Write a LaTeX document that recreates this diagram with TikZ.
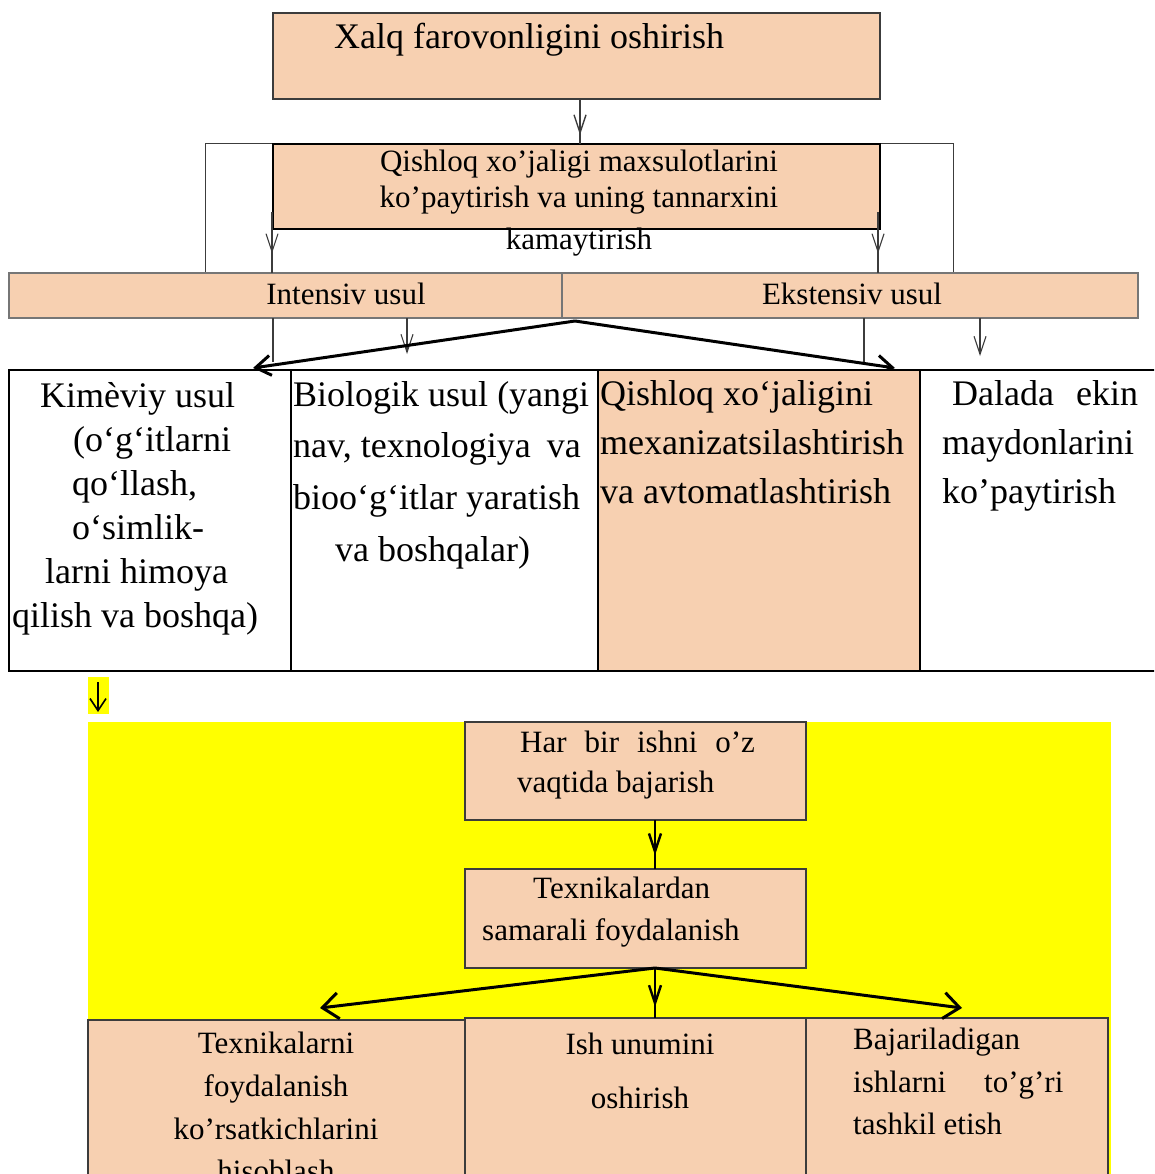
\documentclass[tikz,border=0pt]{standalone}
\usepackage{fontspec}
\setmainfont{Liberation Serif}
\usetikzlibrary{arrows.meta,decorations.markings}
\definecolor{peach}{RGB}{247,208,177}
\definecolor{hl}{RGB}{255,255,0}
\definecolor{edge}{RGB}{60,60,60}

\begin{document}
\begin{tikzpicture}[x=1pt,y=-1pt,
  cell/.style={inner sep=0pt, outer sep=0pt, anchor=north west},
  thinbox/.style={cell, draw=edge, line width=1.1pt},
  thickbox/.style={cell, draw=black, line width=2.5pt},
  big/.style={font=\fontsize{36}{44}\selectfont, inner sep=0pt},
  txt/.style={font=\fontsize{31}{38}\selectfont, inner sep=0pt},
  barb/.tip={Straight Barb[length=15pt,width=20pt]},
  slimbarb/.tip={Straight Barb[length=18pt,width=12pt]},
  thinline/.style={draw=edge, line width=1.1pt},
  heavy/.style={draw=black, line width=3pt},
  tipat/.style={postaction={decorate}, decoration={markings,
      mark=at position #1 with {\arrow{slimbarb}}}},
]
\clip (0,0) rectangle (1154,1174);
\fill[white] (0,0) rectangle (1154,1174);

% --- goal ---
\node[thinbox, fill=peach, minimum width=607, minimum height=86] (goal) at (273,13) {};
\node[big, anchor=base west] (goalT) at (334,49) {Xalq farovonligini oshirish};

% --- frame around the second level ---
\node[cell, draw=edge, line width=1pt, minimum width=748, minimum height=129] (frame) at (205,144) {};
\node[thickbox, line width=2.2pt, fill=peach, minimum width=607, minimum height=85] (task) at (273,144) {};
\node[txt, anchor=base] (taskA) at (579,172) {Qishloq xo’jaligi maxsulotlarini};
\node[txt, anchor=base] (taskB) at (579,208) {ko’paytirish va uning tannarxini};
\node[txt, anchor=base] (taskC) at (579,249) {kamaytirish};

\coordinate (goalOut) at (580,99);
\coordinate (taskIn) at (580,144);
\draw[thinline, line width=1.4pt, tipat=0.8] (goalOut) -- (taskIn);

% --- methods band ---
\node[thinbox, draw=edge!70, fill=peach, minimum width=553, minimum height=45] (intens) at (9,273) {};
\node[thinbox, draw=edge!70, fill=peach, minimum width=576, minimum height=45] (extens) at (562,273) {};
\node[txt, anchor=base] (intensT) at (346,304) {Intensiv usul};
\node[txt, anchor=base] (extensT) at (852,304) {Ekstensiv usul};

\coordinate (lDrop) at (272,212);
\coordinate (lLand) at (272,273);
\coordinate (rDrop) at (878,212);
\coordinate (rLand) at (878,273);
\draw[thinline, tipat=0.68] (lDrop) -- (lLand);
\draw[thinline, tipat=0.68] (rDrop) -- (rLand);

% --- connectors below the band ---
\coordinate (iA) at (273,318);
\coordinate (iAend) at (273,362);
\coordinate (iB) at (407,318);
\coordinate (iBend) at (407,354);
\coordinate (eA) at (864,318);
\coordinate (eAend) at (864,362);
\coordinate (eB) at (980,318);
\coordinate (eBend) at (980,356);
\draw[thinline] (iA) -- (iAend);
\draw[thinline] (eA) -- (eAend);
\draw[thinline, -{slimbarb}] (iB) -- (iBend);
\draw[thinline, -{slimbarb}] (eB) -- (eBend);

\coordinate (split) at (575,321);
\coordinate (toKim) at (253,368);
\coordinate (toMex) at (895,368);
\draw[heavy, -{barb}] (split) -- (toKim);
\draw[heavy, -{barb}] (split) -- (toMex);

% --- four ways ---
\node[thickbox, minimum width=282, minimum height=301] (kim) at (9,370) {};
\node[thickbox, minimum width=307, minimum height=301] (bio) at (291,370) {};
\node[thickbox, fill=peach, minimum width=322, minimum height=301] (mex) at (598,370) {};
\node[thickbox, minimum width=260, minimum height=301] (dal) at (920,370) {};

\node[big, anchor=base west] (kim1) at (40,407) {Kimèviy usul};
\node[big, anchor=base west] (kim2) at (73,451) {(o‘g‘itlarni};
\node[big, anchor=base west] (kim3) at (72,495) {qo‘llash,};
\node[big, anchor=base west] (kim4) at (72,539) {o‘simlik-};
\node[big, anchor=base west] (kim5) at (45,583) {larni himoya};
\node[big, anchor=base west] (kim6) at (12,627) {qilish va boshqa)};

\node[big, anchor=base west] (bio1) at (293,406) {Biologik usul (yangi};
\node[big, anchor=base west] (bio2) at (293,457) {nav, texnologiya\hspace{16pt}va};
\node[big, anchor=base west] (bio3) at (293,509) {bioo‘g‘itlar yaratish};
\node[big, anchor=base west] (bio4) at (335,561) {va boshqalar)};

\node[big, anchor=base west] (mex1) at (600,405) {Qishloq xo‘jaligini};
\node[big, anchor=base west] (mex2) at (600,454) {mexanizatsilashtirish};
\node[big, anchor=base west] (mex3) at (600,503) {va avtomatlashtirish};

\node[big, anchor=base west] (dal1) at (952,405) {Dalada\hspace{22pt}ekin};
\node[big, anchor=base west] (dal2) at (942,454) {maydonlarini};
\node[big, anchor=base west] (dal3) at (942,503) {ko’paytirish};

% --- highlighted continuation ---
\fill[hl] (88,677) rectangle (109,714);
\coordinate (contTop) at (98,682);
\coordinate (contEnd) at (98,712);
\draw[black, line width=1.6pt, -{Straight Barb[length=12pt,width=16pt]}] (contTop) -- (contEnd);

\fill[hl] (88,722) rectangle (1111,1180);

\node[thinbox, fill=peach, minimum width=341, minimum height=98] (time) at (465,722) {};
\node[txt, anchor=base west] (time1) at (520,752) {Har\hspace{18pt}bir\hspace{18pt}ishni\hspace{18pt}o’z};
\node[txt, anchor=base west] (time2) at (517,792) {vaqtida bajarish};

\node[thinbox, fill=peach, minimum width=341, minimum height=99] (use) at (465,869) {};
\node[txt, anchor=base west] (use1) at (533,898) {Texnikalardan};
\node[txt, anchor=base west] (use2) at (482,940) {samarali foydalanish};

\coordinate (timeOut) at (655,820);
\coordinate (useIn) at (655,869);
\draw[black, line width=2.4pt, tipat=0.72] (timeOut) -- (useIn);

\node[thinbox, fill=peach, minimum width=377, minimum height=200] (calc) at (88,1020) {};
\node[thinbox, fill=peach, minimum width=341, minimum height=200] (prod) at (465,1018) {};
\node[thinbox, fill=peach, minimum width=302, minimum height=200] (org) at (806,1018) {};

\coordinate (useOut) at (655,968);
\coordinate (toCalc) at (320,1008);
\coordinate (toOrg) at (962,1008);
\coordinate (prodIn) at (655,1018);
\draw[heavy, -{Straight Barb[length=16pt,width=26pt]}] (useOut) -- (toCalc);
\draw[heavy, -{Straight Barb[length=16pt,width=26pt]}] (useOut) -- (toOrg);
\draw[black, line width=2.4pt, tipat=0.78] (useOut) -- (prodIn);

\node[txt, anchor=base] (calc1) at (276,1053) {Texnikalarni};
\node[txt, anchor=base] (calc2) at (276,1096) {foydalanish};
\node[txt, anchor=base] (calc3) at (276,1139) {ko’rsatkichlarini};
\node[txt, anchor=base] (calc4) at (276,1181) {hisoblash};

\node[txt, anchor=base] (prod1) at (640,1054) {Ish unumini};
\node[txt, anchor=base] (prod2) at (640,1108) {oshirish};

\node[txt, anchor=base west] (org1) at (853,1049) {Bajariladigan};
\node[txt, anchor=base west] (org2) at (853,1092) {ishlarni\hspace{38pt}to’g’ri};
\node[txt, anchor=base west] (org3) at (853,1134) {tashkil etish};
\end{tikzpicture}
\end{document}
